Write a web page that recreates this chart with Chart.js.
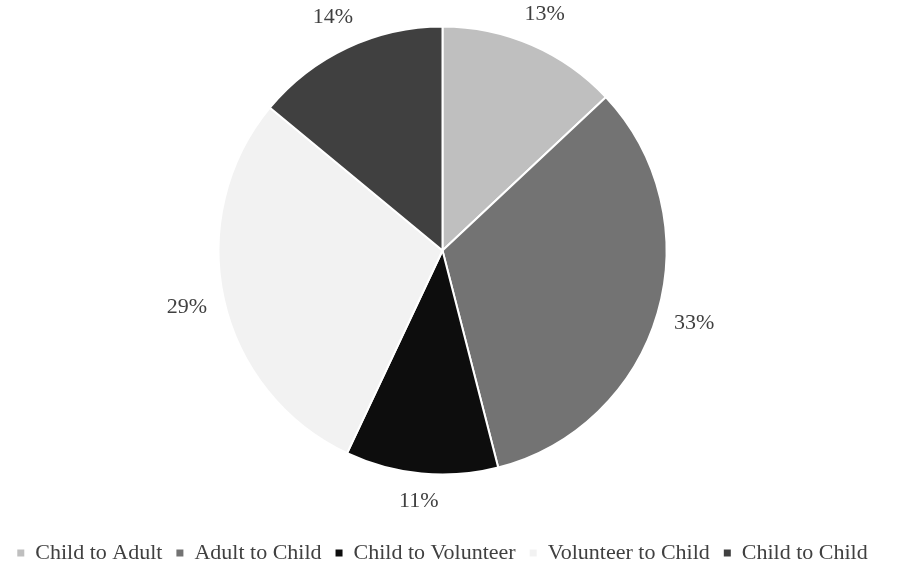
<html lang="en">
<head>
    <meta charset="UTF-8">
    <title>Pie</title>
    <script src="https://cdn.jsdelivr.net/npm/chart.js@4.4.0/dist/chart.umd.min.js"></script>
    <style>
        body { margin: 0; background: #fff; }
        #wrap { width: 898px; height: 566px; }
    </style>
</head>
<body>
<div id="wrap"><canvas id="chart" width="898" height="566"></canvas></div>
<script>
const labels = ['Child to Adult', 'Adult to Child', 'Child to Volunteer', 'Volunteer to Child', 'Child to Child'];
const shares = [13, 33, 11, 29, 14];
const colors = ['#bfbfbf', '#737373', '#0d0d0d', '#f2f2f2', '#404040'];

const FONT = "'Liberation Serif', 'Times New Roman', serif";

// percent labels just outside each slice
const outsideLabels = {
    id: 'outsideLabels',
    afterDatasetsDraw(chart) {
        const ctx = chart.ctx;
        const meta = chart.getDatasetMeta(0);
        ctx.save();
        ctx.font = '22px ' + FONT;
        ctx.fillStyle = '#404040';
        ctx.textAlign = 'center';
        ctx.textBaseline = 'middle';
        meta.data.forEach((arc, i) => {
            const p = arc.getProps(['x', 'y', 'startAngle', 'endAngle', 'outerRadius'], true);
            const mid = (p.startAngle + p.endAngle) / 2;
            const dx = Math.cos(mid), dy = Math.sin(mid);
            const txt = shares[i] + '%';
            const hw = ctx.measureText(txt).width / 2, hh = 10;
            const d = p.outerRadius + 16 + Math.abs(dx) * hw + Math.abs(dy) * hh;
            ctx.fillText(txt, p.x + dx * d, p.y + dy * d);
        });
        ctx.restore();
    }
};

new Chart(document.getElementById('chart'), {
    type: 'pie',
    data: {
        labels: labels,
        datasets: [{
            data: shares,
            backgroundColor: colors,
            borderColor: '#ffffff',
            borderWidth: 2,
            radius: 224
        }]
    },
    options: {
        responsive: false,
        animation: false,
        layout: { padding: { top: 0, bottom: -8, left: 0, right: 13 } },
        plugins: {
            tooltip: { enabled: false },
            legend: {
                position: 'bottom',
                // empty title only used as a spacer above the legend row
                title: { display: true, text: ' ', font: { size: 10 }, padding: { top: 15, bottom: 0 } },
                labels: {
                    boxWidth: 7,
                    boxHeight: 7,
                    padding: 14,
                    color: '#404040',
                    font: { family: FONT, size: 22 },
                    generateLabels(chart) {
                        const items = Chart.overrides.pie.plugins.legend.labels.generateLabels(chart);
                        items.forEach(it => { it.lineWidth = 0; it.strokeStyle = 'transparent'; });
                        return items;
                    }
                }
            }
        }
    },
    plugins: [outsideLabels]
});
</script>
</body>
</html>
